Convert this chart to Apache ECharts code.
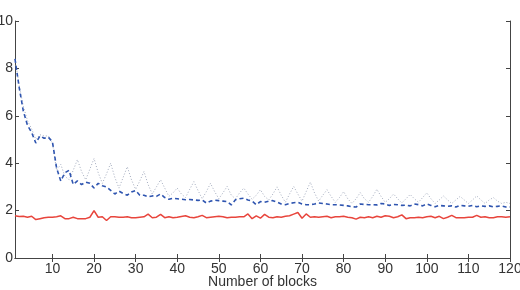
<!DOCTYPE html>
<html>
<head>
<meta charset="utf-8">
<script src="https://cdn.jsdelivr.net/npm/echarts@6/dist/echarts.min.js"></script>
<style>
  html, body { margin: 0; padding: 0; background: #fff; }
  #chart { width: 520px; height: 290px; }
</style>
</head>
<body>
<div id="chart"></div>
<script>
// x positions: number of blocks 1..120
var blocks = [];
for (var i = 1; i <= 120; i++) blocks.push(i);

var xTicks = [10, 20, 30, 40, 50, 60, 70, 80, 90, 100, 110, 120];

// red solid line
var redValues = [
  1.78, 1.75, 1.76, 1.72, 1.76, 1.62, 1.66, 1.70, 1.72, 1.72,
  1.74, 1.78, 1.66, 1.66, 1.72, 1.66, 1.66, 1.66, 1.72, 2.00,
  1.72, 1.74, 1.58, 1.74, 1.74, 1.72, 1.72, 1.74, 1.70, 1.70,
  1.72, 1.74, 1.85, 1.70, 1.72, 1.84, 1.70, 1.74, 1.70, 1.72,
  1.75, 1.78, 1.72, 1.70, 1.74, 1.80, 1.70, 1.72, 1.74, 1.76,
  1.74, 1.70, 1.72, 1.72, 1.74, 1.74, 1.86, 1.66, 1.78, 1.68,
  1.84, 1.72, 1.70, 1.74, 1.72, 1.76, 1.78, 1.85, 1.92, 1.68,
  1.86, 1.72, 1.74, 1.72, 1.74, 1.76, 1.70, 1.74, 1.74, 1.76,
  1.72, 1.70, 1.64, 1.72, 1.70, 1.74, 1.70, 1.76, 1.72, 1.78,
  1.76, 1.70, 1.74, 1.82, 1.66, 1.70, 1.70, 1.72, 1.70, 1.74,
  1.76, 1.70, 1.76, 1.66, 1.72, 1.80, 1.70, 1.70, 1.70, 1.72,
  1.72, 1.80, 1.72, 1.74, 1.70, 1.70, 1.74, 1.74, 1.72, 1.74
];

// blue dashed line
var blueValues = [
  8.40, 7.20, 6.20, 5.60, 5.30, 4.85, 5.15, 5.05, 5.10, 4.90,
  3.80, 3.25, 3.60, 3.70, 3.10, 3.25, 3.10, 3.20, 3.15, 2.95,
  3.15, 3.05, 3.00, 2.85, 2.70, 2.82, 2.72, 2.65, 2.78, 2.85,
  2.65, 2.65, 2.58, 2.62, 2.60, 2.70, 2.55, 2.48, 2.52, 2.50,
  2.48, 2.46, 2.47, 2.45, 2.43, 2.45, 2.32, 2.40, 2.44, 2.42,
  2.40, 2.38, 2.24, 2.46, 2.50, 2.52, 2.45, 2.40, 2.25, 2.38,
  2.35, 2.40, 2.42, 2.36, 2.28, 2.25, 2.30, 2.33, 2.35, 2.28,
  2.25, 2.25, 2.28, 2.32, 2.30, 2.28, 2.25, 2.25, 2.24, 2.22,
  2.20, 2.16, 2.15, 2.28, 2.26, 2.25, 2.25, 2.24, 2.30, 2.28,
  2.22, 2.26, 2.25, 2.22, 2.23, 2.20, 2.28, 2.25, 2.20, 2.28,
  2.22, 2.16, 2.22, 2.20, 2.18, 2.20, 2.15, 2.22, 2.20, 2.18,
  2.22, 2.16, 2.20, 2.18, 2.20, 2.16, 2.18, 2.20, 2.15, 2.15
];

// grey dotted line
var greyValues = [
  8.40, 7.30, 6.40, 5.80, 5.45, 5.00, 5.20, 5.15, 5.15, 4.85,
  3.70, 3.95, 3.45, 3.30, 3.70, 4.15, 3.65, 3.30, 3.75, 4.20,
  3.60, 3.15, 3.55, 4.00, 3.40, 2.95, 3.40, 3.85, 3.30, 2.90,
  3.25, 3.65, 3.10, 2.70, 3.00, 3.30, 2.95, 2.60, 2.75, 2.95,
  2.70, 2.55, 2.90, 3.22, 2.85, 2.50, 2.80, 3.15, 2.80, 2.50,
  2.75, 3.02, 2.65, 2.50, 2.75, 2.95, 2.70, 2.48, 2.65, 2.88,
  2.60, 2.45, 2.70, 3.00, 2.65, 2.35, 2.70, 3.02, 2.70, 2.40,
  2.80, 3.20, 2.75, 2.40, 2.65, 2.88, 2.60, 2.35, 2.55, 2.80,
  2.50, 2.30, 2.50, 2.76, 2.50, 2.35, 2.60, 2.90, 2.60, 2.35,
  2.50, 2.70, 2.50, 2.32, 2.50, 2.68, 2.50, 2.35, 2.55, 2.75,
  2.50, 2.30, 2.45, 2.62, 2.45, 2.30, 2.45, 2.60, 2.45, 2.30,
  2.45, 2.62, 2.45, 2.30, 2.45, 2.55, 2.40, 2.30, 2.35, 2.30
];

function pairs(values) {
  return blocks.map(function (b, i) { return [b, values[i]]; });
}

var axisColor = '#444';
var font = 'Liberation Sans, Arial, Helvetica, sans-serif';

var chart = echarts.init(document.getElementById('chart'), null, { renderer: 'canvas' });

chart.setOption({
  animation: false,
  backgroundColor: '#fff',
  grid: { left: 15, right: 10, top: 21, bottom: 32, containLabel: false, outerBoundsMode: 'none' },
  xAxis: [
    {
      type: 'value', min: 1, max: 120, position: 'bottom',
      name: 'Number of blocks', nameLocation: 'middle', nameGap: 17, nameMoveOverlap: false,
      nameTextStyle: { color: '#333', fontSize: 14, fontFamily: font, verticalAlign: 'top' },
      axisLine: { lineStyle: { color: axisColor, width: 1 } },
      axisTick: { inside: true, length: 4, customValues: xTicks, lineStyle: { color: axisColor } },
      axisLabel: { customValues: xTicks, color: '#333', fontSize: 14, fontFamily: font, margin: 4 },
      splitLine: { show: false }
    },
    {
      type: 'value', min: 1, max: 120, position: 'top',
      axisLine: { lineStyle: { color: axisColor, width: 1 } },
      axisTick: { inside: true, length: 4, customValues: xTicks, lineStyle: { color: axisColor } },
      axisLabel: { show: false },
      splitLine: { show: false }
    }
  ],
  yAxis: [
    {
      type: 'value', min: 0, max: 10, interval: 2, position: 'left',
      axisLine: { show: true, lineStyle: { color: axisColor, width: 1 } },
      axisTick: { show: true, inside: true, length: 4, lineStyle: { color: axisColor } },
      axisLabel: { color: '#333', fontSize: 14, fontFamily: font, margin: 2 },
      splitLine: { show: false }
    },
    {
      type: 'value', min: 0, max: 10, interval: 2, position: 'right',
      axisLine: { show: true, lineStyle: { color: axisColor, width: 1 } },
      axisTick: { show: true, inside: true, length: 4, lineStyle: { color: axisColor } },
      axisLabel: { show: false },
      splitLine: { show: false }
    }
  ],
  series: [
    {
      type: 'line', data: pairs(greyValues), showSymbol: false, silent: true,
      lineStyle: { color: '#a3abbe', width: 1, type: [1, 2] }, z: 2
    },
    {
      type: 'line', data: pairs(blueValues), showSymbol: false, silent: true,
      lineStyle: { color: '#2f55b0', width: 1.6, type: [4, 3] }, z: 3
    },
    {
      type: 'line', data: pairs(redValues), showSymbol: false, silent: true,
      lineStyle: { color: '#e8453c', width: 1.5 }, z: 4
    }
  ]
});
</script>
</body>
</html>
